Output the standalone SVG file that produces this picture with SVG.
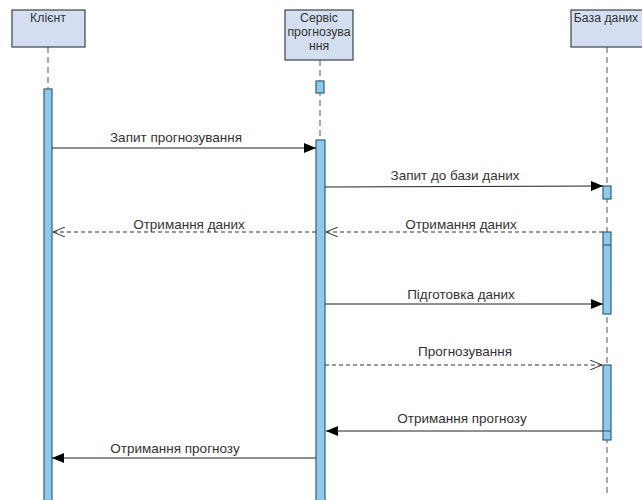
<svg xmlns="http://www.w3.org/2000/svg" width="642" height="500" viewBox="0 0 642 500">
  <style>
    .head { fill: #d3dff1; stroke: #4a4f57; stroke-width: 1.3; }
    .lbl { font-family: "Liberation Sans", Arial, sans-serif; font-size: 13.5px; fill: #333; }
    .hl { font-family: "Liberation Sans", Arial, sans-serif; font-size: 12.3px; fill: #333; }
    .life { stroke: #555; stroke-width: 1; stroke-dasharray: 6 4; fill: none; }
    .act { fill: #8ecbea; stroke: #2f5f80; stroke-width: 1.2; }
    .msg { stroke: #222; stroke-width: 1; fill: none; }
    .ret { stroke: #333; stroke-width: 1; stroke-dasharray: 4 3; fill: none; }
  </style>
  <defs>
    <marker id="filled" viewBox="0 0 12 10" refX="12" refY="5" markerWidth="12" markerHeight="10" markerUnits="userSpaceOnUse" orient="auto">
      <path d="M0,0 L12,5 L0,10 Z" fill="#000"/>
    </marker>
    <marker id="open" viewBox="0 0 12 10" refX="12" refY="5" markerWidth="12" markerHeight="10" markerUnits="userSpaceOnUse" orient="auto">
      <path d="M0,0 L12,5 L0,10" fill="none" stroke="#333" stroke-width="1"/>
    </marker>
  </defs>
  <rect width="642" height="500" fill="#fff"/>

  <!-- lifelines -->
  <g id="lifelines">
    <line class="life" x1="48" y1="47" x2="48" y2="89"/>
    <line class="life" x1="320" y1="60" x2="320" y2="140"/>
    <line class="life" x1="607" y1="47" x2="607" y2="495"/>
  </g>

  <g id="client">
    <rect class="head" x="12" y="10" width="73" height="37"/>
    <text class="hl" x="48" y="22" text-anchor="middle">Клієнт</text>
    <rect class="act" x="44" y="89" width="8" height="415"/>
  </g>

  <g id="service">
    <rect class="head" x="285" y="10" width="68" height="50"/>
    <text class="hl" x="319" y="22" text-anchor="middle">Сервіс</text>
    <text class="hl" x="319" y="36" text-anchor="middle">прогнозува</text>
    <text class="hl" x="319" y="50" text-anchor="middle">ння</text>
    <rect class="act" x="316" y="81" width="8" height="12"/>
    <rect class="act" x="316" y="140" width="9" height="364"/>
  </g>

  <g id="database">
    <rect class="head" x="571" y="10" width="75" height="37"/>
    <text class="hl" x="606" y="22" text-anchor="middle">База даних</text>
    <rect class="act" x="603" y="186" width="8" height="13"/>
    <rect class="act" x="603" y="232" width="8" height="82"/>
    <line stroke="#2f5f80" stroke-width="1.2" x1="603" y1="245" x2="611" y2="245"/>
    <rect class="act" x="603" y="365" width="8" height="75"/>
    <line stroke="#2f5f80" stroke-width="1.2" x1="603" y1="431" x2="611" y2="431"/>
  </g>

  <!-- messages -->
  <g id="connectors">
    <line class="msg" x1="52" y1="148" x2="316" y2="148" marker-end="url(#filled)"/>
    <line class="msg" x1="325" y1="187" x2="603" y2="186" marker-end="url(#filled)"/>
    <line class="ret" x1="603" y1="232" x2="326" y2="232" marker-end="url(#open)"/>
    <line class="ret" x1="316" y1="232" x2="53" y2="232" marker-end="url(#open)"/>
    <line class="msg" x1="325" y1="304" x2="603" y2="304" marker-end="url(#filled)"/>
    <line class="ret" x1="325" y1="365" x2="602" y2="365" marker-end="url(#open)"/>
    <line class="msg" x1="603" y1="431" x2="326" y2="431" marker-end="url(#filled)"/>
    <line class="msg" x1="316" y1="458" x2="52" y2="458" marker-end="url(#filled)"/>
  </g>

  <g id="labels">
    <text class="lbl" x="176" y="142" text-anchor="middle">Запит прогнозування</text>
    <text class="lbl" x="455" y="180" text-anchor="middle">Запит до бази даних</text>
    <text class="lbl" x="461" y="229" text-anchor="middle">Отримання даних</text>
    <text class="lbl" x="189" y="229" text-anchor="middle">Отримання даних</text>
    <text class="lbl" x="461" y="299" text-anchor="middle">Підготовка даних</text>
    <text class="lbl" x="465" y="356" text-anchor="middle">Прогнозування</text>
    <text class="lbl" x="462" y="423" text-anchor="middle">Отримання прогнозу</text>
    <text class="lbl" x="175" y="453" text-anchor="middle">Отримання прогнозу</text>
  </g>
</svg>
